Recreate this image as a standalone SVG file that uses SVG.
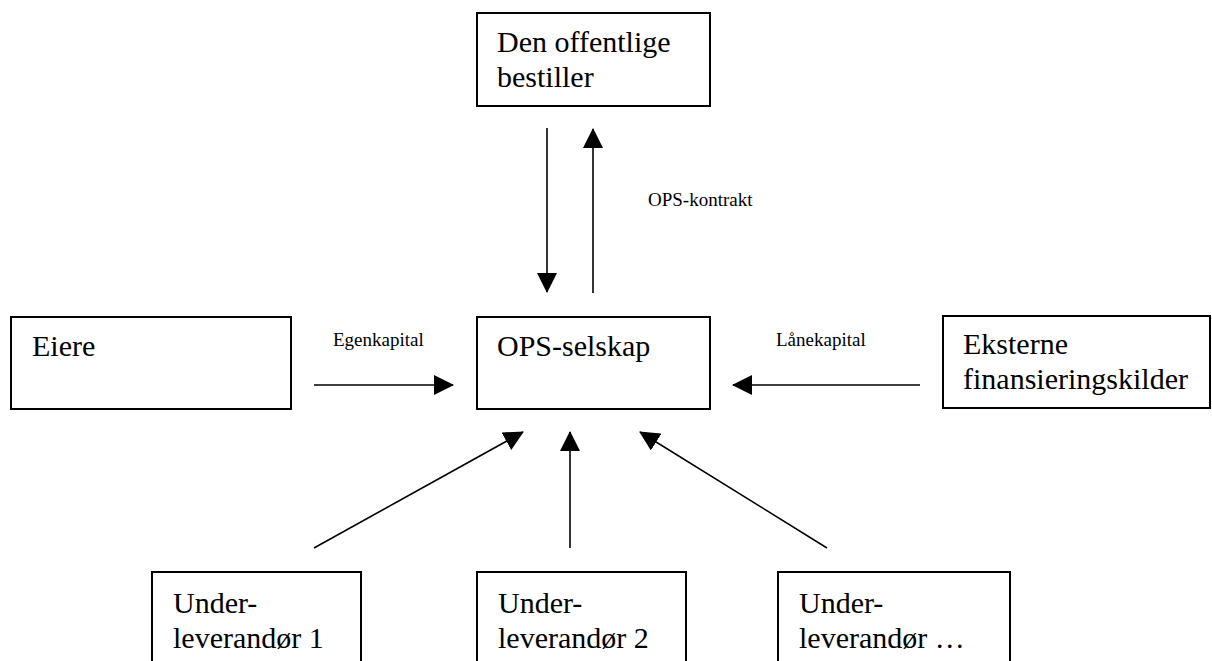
<svg xmlns="http://www.w3.org/2000/svg" width="1212" height="661" viewBox="0 0 1212 661">
<style>
.box{fill:#fff;stroke:#000;stroke-width:2}
.t{font-family:"Liberation Serif","Times New Roman",serif;font-size:30px;fill:#000}
.l{font-family:"Liberation Serif","Times New Roman",serif;font-size:19px;fill:#000}
.c{stroke:#000;stroke-width:1.6;fill:none;marker-end:url(#ah)}
</style>
<defs>
<marker id="ah" markerUnits="userSpaceOnUse" markerWidth="20" markerHeight="20" refX="19" refY="10" orient="auto">
<path d="M0,0 L20,10 L0,20 z" fill="#000"/>
</marker>
</defs>
<rect width="1212" height="661" fill="#fff"/>
<g id="connectors">
<line class="c" x1="547" y1="128" x2="547" y2="292"/>
<line class="c" x1="593" y1="293" x2="593" y2="129"/>
<line class="c" x1="314" y1="385" x2="453" y2="385"/>
<line class="c" x1="920" y1="385" x2="733" y2="385"/>
<line class="c" x1="314" y1="548" x2="523" y2="432"/>
<line class="c" x1="570" y1="548" x2="570" y2="432"/>
<line class="c" x1="827" y1="548" x2="640" y2="432"/>
<text class="l" x="648" y="206">OPS-kontrakt</text>
<text class="l" x="333" y="346">Egenkapital</text>
<text class="l" x="776" y="346">Lånekapital</text>
</g>
<g id="bestiller">
<rect class="box" x="477" y="13" width="233" height="93"/>
<text class="t" x="497" y="52">Den offentlige</text>
<text class="t" x="497" y="87">bestiller</text>
</g>
<g id="eiere">
<rect class="box" x="11" y="317" width="280" height="92"/>
<text class="t" x="32" y="356">Eiere</text>
</g>
<g id="ops">
<rect class="box" x="477" y="317" width="233" height="92"/>
<text class="t" x="497" y="356">OPS-selskap</text>
</g>
<g id="eksterne">
<rect class="box" x="943" y="316" width="267" height="92"/>
<text class="t" x="963" y="354">Eksterne</text>
<text class="t" x="963" y="389">finansieringskilder</text>
</g>
<g id="under1">
<rect class="box" x="152" y="572" width="209" height="110"/>
<text class="t" x="173" y="613">Under-</text>
<text class="t" x="173" y="648">leverandør 1</text>
</g>
<g id="under2">
<rect class="box" x="477" y="572" width="209" height="110"/>
<text class="t" x="498" y="613">Under-</text>
<text class="t" x="498" y="648">leverandør 2</text>
</g>
<g id="under3">
<rect class="box" x="778" y="572" width="232" height="110"/>
<text class="t" x="799" y="613">Under-</text>
<text class="t" x="799" y="648">leverandør …</text>
</g>
</svg>
